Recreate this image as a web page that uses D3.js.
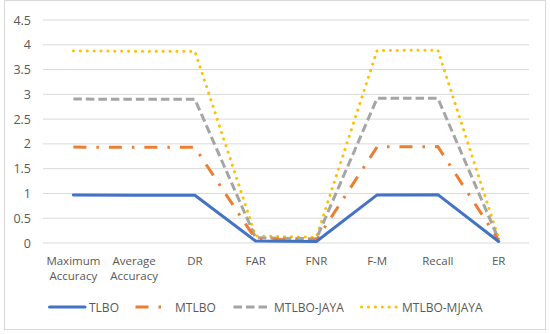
<!DOCTYPE html>
<html>
<head>
<meta charset="utf-8">
<script src="https://cdn.jsdelivr.net/npm/d3@7"></script>
<style>
  body { margin: 0; background: #fff; }
  text { font-family: "Open Sans", "Liberation Sans", sans-serif; fill: #595959; }
</style>
</head>
<body>
<div id="chart"></div>
<script>
const categories = ["Maximum Accuracy", "Average Accuracy", "DR", "FAR", "FNR", "F-M", "Recall", "ER"];
const seriesNames = ["TLBO", "MTLBO", "MTLBO-JAYA", "MTLBO-MJAYA"];
const tlbo = [0.97, 0.965, 0.965, 0.04, 0.03, 0.97, 0.975, 0.03];
const mtlbo = [0.965, 0.965, 0.965, 0.035, 0.03, 0.97, 0.97, 0.025];
const mtlboJaya = [0.97, 0.97, 0.97, 0.03, 0.025, 0.98, 0.975, 0.02];
const mtlboMjaya = [0.97, 0.97, 0.97, 0.035, 0.03, 0.965, 0.97, 0.02];
const yTicks = [0, 0.5, 1, 1.5, 2, 2.5, 3, 3.5, 4, 4.5];

const W = 550, H = 334;
const margin = {top: 20, right: 21, bottom: 91, left: 43};
const width = W - margin.left - margin.right;
const height = H - margin.top - margin.bottom;

const colors = ["#4472C4", "#ED7D31", "#A5A5A5", "#FFC000"];
const dashes = ["none", "13,10,2.5,10", "8.5,4", "0.1,6.8"];
const caps = ["round", "butt", "butt", "round"];

const svg = d3.select("#chart").append("svg")
    .attr("width", W)
    .attr("height", H);

// chart area border
svg.append("rect")
    .attr("x", 4.5).attr("y", 0.5)
    .attr("width", W - 9).attr("height", H - 5)
    .attr("fill", "#fff")
    .attr("stroke", "#d9d9d9");

const g = svg.append("g")
    .attr("transform", `translate(${margin.left},${margin.top})`);

const x = d3.scaleBand().domain(categories).range([0, width]);
const y = d3.scaleLinear().domain([0, 4.5]).range([height, 0]);

// gridlines
g.append("g")
    .selectAll("line")
    .data(yTicks)
    .join("line")
    .attr("x1", 0).attr("x2", width)
    .attr("y1", d => y(d)).attr("y2", d => y(d))
    .attr("stroke", "#d9d9d9")
    .attr("stroke-width", 1);

// y axis labels
const yAxis = g.append("g")
    .call(d3.axisLeft(y).tickValues(yTicks).tickFormat(d => String(d)).tickSize(0).tickPadding(12));
yAxis.select(".domain").remove();
yAxis.selectAll("text")
    .style("font-size", "12.5px")
    .attr("fill", "#595959");

// x axis labels, wrapped on spaces
const xAxis = g.append("g")
    .attr("transform", `translate(0,${height})`)
    .call(d3.axisBottom(x).tickSize(0).tickPadding(0));
xAxis.select(".domain").remove();
xAxis.selectAll("text").remove();
xAxis.selectAll(".tick").each(function(d) {
    const words = d.split(" ");
    const t = d3.select(this).append("text")
        .attr("text-anchor", "middle")
        .style("font-size", "11.5px")
        .attr("fill", "#595959");
    words.forEach((w, i) => {
        t.append("tspan").attr("x", 0).attr("y", 22 + i * 15).text(w);
    });
});

// stacked line data
const table = categories.map((c, i) => ({
    cat: c,
    "TLBO": tlbo[i],
    "MTLBO": mtlbo[i],
    "MTLBO-JAYA": mtlboJaya[i],
    "MTLBO-MJAYA": mtlboMjaya[i]
}));
const stacked = d3.stack().keys(seriesNames)(table);

const line = d3.line()
    .x(d => x(d.data.cat) + x.bandwidth() / 2)
    .y(d => y(d[1]));

g.append("g")
    .selectAll("path")
    .data(stacked.slice().reverse())
    .join("path")
    .attr("d", d => line(d))
    .attr("fill", "none")
    .attr("stroke", d => colors[d.index])
    .attr("stroke-width", 3)
    .attr("stroke-dasharray", d => dashes[d.index])
    .attr("stroke-linecap", d => caps[d.index])
    .attr("stroke-linejoin", "round");

// legend
const legendX = [48, 134, 232, 360];
const legend = svg.append("g").attr("transform", "translate(0,307)");
const items = legend.selectAll("g")
    .data(seriesNames)
    .join("g")
    .attr("transform", (d, i) => `translate(${legendX[i]},0)`);
items.append("line")
    .attr("x1", 1.5).attr("x2", 37)
    .attr("y1", 0).attr("y2", 0)
    .attr("stroke", (d, i) => colors[i])
    .attr("stroke-width", 3)
    .attr("stroke-dasharray", (d, i) => dashes[i])
    .attr("stroke-linecap", (d, i) => caps[i]);
items.append("text")
    .attr("x", (d, i) => i < 2 ? 41 : 42)
    .attr("y", 4.5)
    .style("font-size", "12px")
    .attr("fill", "#595959")
    .text(d => d);
</script>
</body>
</html>
